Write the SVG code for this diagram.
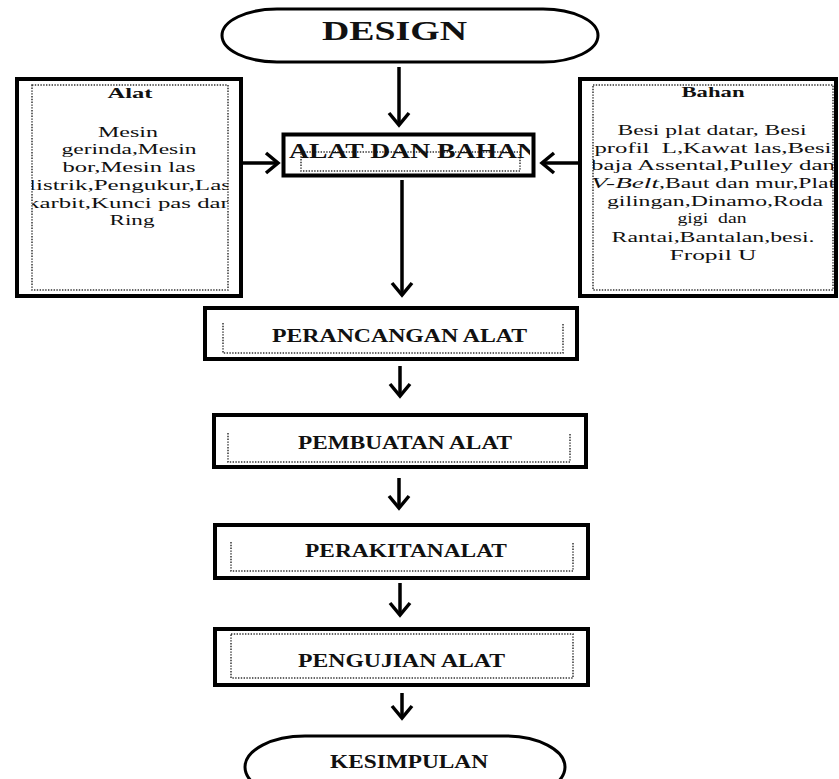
<svg xmlns="http://www.w3.org/2000/svg" width="839" height="779" viewBox="0 0 839 779">
<style>
.box{fill:#fff;stroke:#000;stroke-width:4}
.term{fill:#fff;stroke:#000;stroke-width:3}
.dot{fill:none;stroke:#333;stroke-width:1.5;stroke-dasharray:1.4 1.4}
.t{font-family:"Liberation Serif","Times New Roman",serif;fill:#111}
.b{font-weight:bold}
.body{font-size:15px}
.cap{font-size:18px;font-weight:bold}
.con{fill:none;stroke:#000;stroke-width:3.5}
</style>
<defs>
<marker id="ah" markerUnits="userSpaceOnUse" markerWidth="30" markerHeight="30" viewBox="-15 -15 30 30" refX="0" refY="0" orient="auto">
<path d="M-12,-10 L0,0 L-12,10" fill="none" stroke="#000" stroke-width="3.5"/>
</marker>
<clipPath id="cAlat"><rect x="32" y="85" width="196" height="205"/></clipPath>
<clipPath id="cBahan"><rect x="593" y="85" width="240" height="205"/></clipPath>
<clipPath id="cADB"><rect x="282" y="133" width="248" height="44"/></clipPath>
</defs>

<g id="connectors">
<line class="con" x1="399" y1="67" x2="399" y2="125" marker-end="url(#ah)"/>
<line class="con" x1="402" y1="180" x2="402" y2="295" marker-end="url(#ah)"/>
<line class="con" x1="400" y1="366" x2="400" y2="396" marker-end="url(#ah)"/>
<line class="con" x1="399" y1="478" x2="399" y2="508" marker-end="url(#ah)"/>
<line class="con" x1="400" y1="583" x2="400" y2="615" marker-end="url(#ah)"/>
<line class="con" x1="402" y1="693" x2="402" y2="718" marker-end="url(#ah)"/>
<line class="con" x1="243" y1="163" x2="278" y2="163" marker-end="url(#ah)"/>
<line class="con" x1="578" y1="163" x2="542" y2="163" marker-end="url(#ah)"/>
</g>

<g id="design">
<rect class="term" x="222" y="9" width="376" height="53" rx="55" ry="26.5"/>
<text class="t b" x="322" y="40" font-size="27" textLength="145" lengthAdjust="spacingAndGlyphs">DESIGN</text>
</g>

<g id="alat">
<rect class="box" x="17" y="79" width="224" height="217"/>
<rect class="dot" x="32" y="85" width="196" height="205"/>
<g clip-path="url(#cAlat)" class="t body" text-anchor="middle">
<text class="b" x="130" y="98" textLength="45" lengthAdjust="spacingAndGlyphs">Alat</text>
<text x="128" y="137" textLength="60" lengthAdjust="spacingAndGlyphs">Mesin</text>
<text x="129" y="154" textLength="135" lengthAdjust="spacingAndGlyphs">gerinda,Mesin</text>
<text x="129" y="172" textLength="133" lengthAdjust="spacingAndGlyphs">bor,Mesin las</text>
<text x="130" y="190" textLength="202" lengthAdjust="spacingAndGlyphs">listrik,Pengukur,Las</text>
<text x="130" y="208" textLength="206" lengthAdjust="spacingAndGlyphs">karbit,Kunci pas dan</text>
<text x="132" y="225" textLength="45" lengthAdjust="spacingAndGlyphs">Ring</text>
</g>
</g>

<g id="bahan">
<rect class="box" x="580" y="79" width="256" height="217"/>
<rect class="dot" x="593" y="85" width="240" height="205"/>
<g clip-path="url(#cBahan)" class="t body">
<text class="b" x="713" y="97" text-anchor="middle" textLength="63" lengthAdjust="spacingAndGlyphs">Bahan</text>
<text x="712" y="135" text-anchor="middle" textLength="189" lengthAdjust="spacingAndGlyphs">Besi plat datar, Besi</text>
<text x="713" y="153" text-anchor="middle" xml:space="preserve" textLength="237" lengthAdjust="spacingAndGlyphs">profil  L,Kawat las,Besi</text>
<text x="713" y="170" text-anchor="middle" textLength="244" lengthAdjust="spacingAndGlyphs">baja Assental,Pulley dan</text>
<text x="591" y="188" font-style="italic" textLength="68" lengthAdjust="spacingAndGlyphs">V-Belt</text>
<text x="659" y="188" textLength="176" lengthAdjust="spacingAndGlyphs">,Baut dan mur,Plat</text>
<text x="715" y="206" text-anchor="middle" textLength="216" lengthAdjust="spacingAndGlyphs">gilingan,Dinamo,Roda</text>
<text x="712" y="223" text-anchor="middle" xml:space="preserve" textLength="69" lengthAdjust="spacingAndGlyphs">gigi  dan</text>
<text x="713" y="242" text-anchor="middle" textLength="203" lengthAdjust="spacingAndGlyphs">Rantai,Bantalan,besi.</text>
<text x="713" y="260" text-anchor="middle" textLength="87" lengthAdjust="spacingAndGlyphs">Fropil U</text>
</g>
</g>

<g id="alat-dan-bahan">
<rect class="box" x="283.5" y="134.5" width="250" height="41" stroke-width="3.5"/>
<rect class="dot" x="301" y="152" width="219" height="19"/>
<g clip-path="url(#cADB)">
<text class="t b" x="289" y="158" font-size="22" textLength="248" lengthAdjust="spacingAndGlyphs">ALAT DAN BAHAN</text>
</g>
</g>

<g id="perancangan">
<rect class="box" x="205" y="308" width="372" height="51"/>
<path class="dot" d="M223,323 V353 H563 V323"/>
<text class="t cap" x="272" y="342" textLength="255" lengthAdjust="spacingAndGlyphs">PERANCANGAN ALAT</text>
</g>

<g id="pembuatan">
<rect class="box" x="214" y="415" width="372" height="52"/>
<path class="dot" d="M228,433 V462 H570 V433"/>
<text class="t cap" x="298" y="449" textLength="214" lengthAdjust="spacingAndGlyphs">PEMBUATAN ALAT</text>
</g>

<g id="perakitan">
<rect class="box" x="215" y="525" width="373" height="53"/>
<path class="dot" d="M231,542 V571 H573 V542"/>
<text class="t cap" x="305" y="557" textLength="202" lengthAdjust="spacingAndGlyphs">PERAKITANALAT</text>
</g>

<g id="pengujian">
<rect class="box" x="215" y="629" width="373" height="56"/>
<rect class="dot" x="231" y="634" width="342" height="44"/>
<text class="t cap" x="298" y="667" textLength="207" lengthAdjust="spacingAndGlyphs">PENGUJIAN ALAT</text>
</g>

<g id="kesimpulan">
<rect class="term" x="245" y="736" width="320" height="62" rx="60" ry="31"/>
<text class="t cap" x="330" y="768" textLength="158" lengthAdjust="spacingAndGlyphs">KESIMPULAN</text>
</g>
</svg>
